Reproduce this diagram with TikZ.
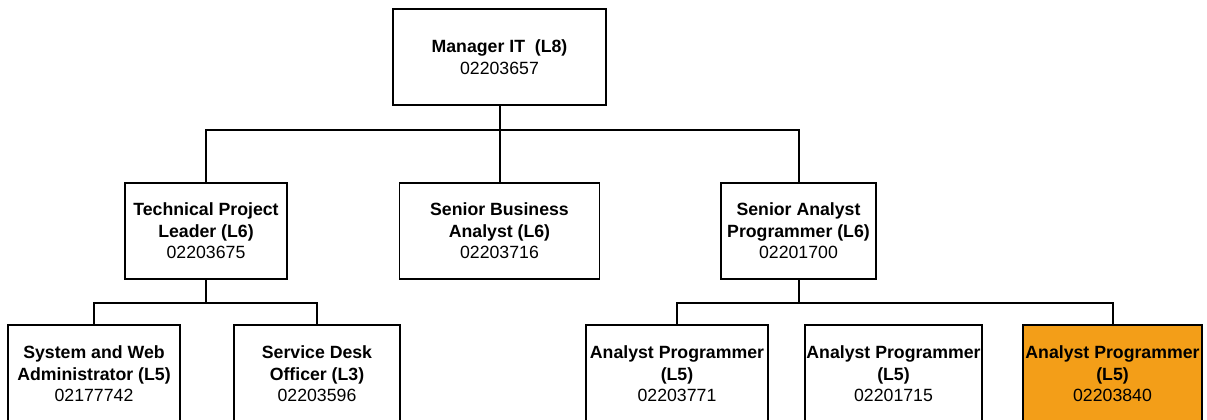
\documentclass[tikz,border=0pt]{standalone}
\usepackage{fontspec}
\setmainfont{Liberation Sans}
\definecolor{hiorange}{RGB}{243,158,24}
\begin{document}
\begin{tikzpicture}[x=1pt,y=-1pt,
  box/.style={draw=black, line width=1.8pt, inner sep=0pt, align=center,
    font=\fontsize{17.7}{21.5}\selectfont},
  link/.style={draw=black, line width=2pt}]
\clip (0,0) rectangle (1207,420);
\fill[white] (0,0) rectangle (1207,420);
% level 1
\node[box, minimum width=213pt, minimum height=96pt] (mgr) at (499.5,57)
  {\textbf{Manager IT\ \ (L8)}\\02203657};
% level 2
\node[box, minimum width=162pt, minimum height=96pt] (tpl) at (206,231)
  {\textbf{Technical Project}\\\textbf{Leader (L6)}\\02203675};
\node[box, minimum width=200pt, minimum height=96pt] (sba) at (499.5,231)
  {\textbf{Senior Business}\\\textbf{Analyst (L6)}\\02203716};
\node[box, minimum width=155pt, minimum height=96pt] (sap) at (798.5,231)
  {\textbf{Senior Analyst}\\\textbf{Programmer (L6)}\\02201700};
% level 3
\node[box, minimum width=172pt, minimum height=98pt] (sw) at (94,374)
  {\textbf{System and Web}\\\textbf{Administrator (L5)}\\02177742};
\node[box, minimum width=166pt, minimum height=98pt] (sd) at (317,374)
  {\textbf{Service Desk}\\\textbf{Officer (L3)}\\02203596};
\node[box, minimum width=182pt, minimum height=98pt] (ap1) at (677,374)
  {\textbf{Analyst Programmer}\\\textbf{(L5)}\\02203771};
\node[box, minimum width=177pt, minimum height=98pt] (ap2) at (893.5,374)
  {\textbf{Analyst Programmer}\\\textbf{(L5)}\\02201715};
\node[box, fill=hiorange, minimum width=179pt, minimum height=98pt] (ap3) at (1112.5,374)
  {\textbf{Analyst Programmer}\\\textbf{(L5)}\\02203840};
% connectors
\coordinate (bus1) at (499.5,130);
\coordinate (bus2) at (206,303);
\coordinate (bus3) at (798.5,303);
\draw[link] (mgr.south) -- (bus1);
\draw[link] (bus1) -- (sba.north);
\draw[link] (tpl.north) |- (bus1);
\draw[link] (sap.north) |- (bus1);
\draw[link] (tpl.south) -- (bus2);
\draw[link] (sw.north) |- (bus2);
\draw[link] (sd.north) |- (bus2);
\draw[link] (sap.south) -- (bus3);
\draw[link] (ap1.north) |- (bus3);
\draw[link] (ap3.north) |- (bus3);
\end{tikzpicture}
\end{document}
